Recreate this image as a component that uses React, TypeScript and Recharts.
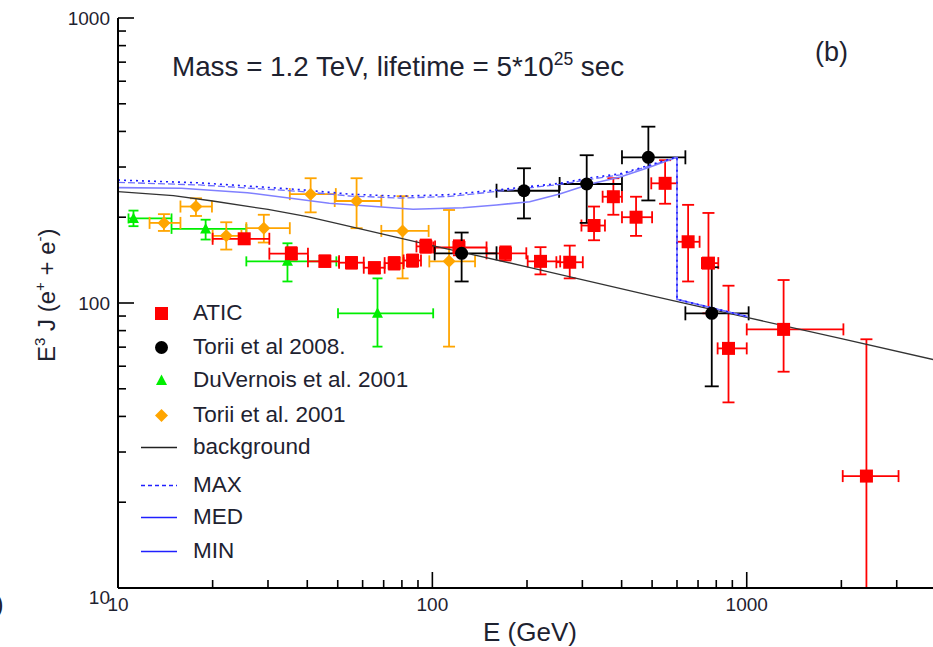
import React from 'react';
import { ComposedChart, XAxis, YAxis, Line, Scatter, ErrorBar, Legend } from 'recharts';

// [E, value, E low, E high, value low, value high]
const ATIC = [
  [25.2, 168, 20.0, 30.3, 162, 174],
  [35.6, 149, 30.3, 40.2, 142, 157],
  [45.5, 140, 40.2, 50.5, 134, 147],
  [55.3, 138.5, 50.5, 60.5, 132, 145],
  [65.4, 133, 60.5, 70.5, 127, 139],
  [75.6, 138, 70.5, 81, 131, 145],
  [86.5, 141, 81, 92, 134, 148],
  [95.3, 158, 89, 102, 150, 167],
  [121.5, 156.6, 100.6, 148.7, 147, 166],
  [170.8, 149.4, 148.7, 199, 141, 158],
  [220.8, 140, 201, 255, 126, 157],
  [273.5, 139, 248, 301, 122, 159],
  [326.8, 187, 298, 354, 166, 218],
  [376.5, 236, 348, 401, 204, 274],
  [444.6, 200, 401, 500, 172, 236],
  [550, 263, 497, 600, 223, 317],
  [651, 164, 600, 708, 119, 221],
  [755.5, 138, 720, 812, 92, 207],
  [875, 69.3, 808, 1000, 44.8, 115],
  [1310, 80.8, 1000, 2030, 57.4, 120.4],
  [2403, 24.7, 2020, 3040, 10, 74.6],
];

const TORII_2008 = [
  [123.9, 149.4, 101.7, 160, 119, 176.7],
  [195.6, 247.7, 160, 253, 198, 297],
  [309.7, 261.5, 254, 401, 191, 330],
  [486.5, 324.5, 401, 638, 229, 415.6],
  [774, 92, 638, 1014, 51, 133.5],
];

const DUVERNOIS = [
  [11.2, 198, 10.8, 14.8, 186, 211],
  [19.0, 182, 14.8, 25.6, 167, 196],
  [34.6, 140, 25.6, 49.5, 119, 162],
  [66.9, 92, 50.1, 100.6, 70.3, 122],
];

const TORII_2001 = [
  [14.0, 191, 12.6, 15.8, 179, 205],
  [17.7, 218, 15.8, 19.9, 202, 233],
  [22.1, 172, 20.0, 24.7, 154, 192],
  [29.1, 183, 25.6, 35.2, 163, 204],
  [41.0, 241, 35.2, 49.3, 208, 274],
  [57.4, 228, 48.9, 68.8, 183, 274],
  [80.4, 179, 68.8, 97.3, 122, 237],
  [113, 140, 97.8, 136.7, 70.3, 212],
];

// [E, value]
const BACKGROUND = [
  [10, 245.8], [15, 238], [20, 228], [30, 213], [40, 201], [50, 190], [100, 159],
  [200, 134], [500, 106], [1000, 89], [2000, 75], [4000, 63],
];
const MAX = [
  [10, 270], [18.2, 264], [37.8, 250], [54.6, 241], [78.8, 237], [113.7, 240], [164, 250],
  [254.6, 263], [317.5, 275], [395.6, 284], [492.8, 305], [596.6, 325], [600, 325],
  [600, 103], [1010, 89.5],
];
const MED = [
  [10, 265], [18.2, 259.5], [37.8, 246.5], [54.6, 237.4], [78.8, 233.5], [113.7, 236.5],
  [164, 247], [254.6, 260.7], [317.5, 271.6], [395.6, 281.5], [492.8, 303], [596.6, 324],
  [600, 324], [600, 103], [1010, 89.5],
];
const MIN = [
  [10, 254], [15.9, 252.6], [25.8, 243.8], [47, 224], [86.8, 213.3], [125, 215.8],
  [160, 220.8], [204, 226.6], [254, 241.3], [318, 261.5], [396, 276.7], [493, 300],
  [596, 324], [600, 324], [600, 103], [1010, 89.5],
];

const X_TICKS = [10, 20, 30, 40, 50, 60, 70, 80, 90, 100, 200, 300, 400, 500, 600, 700, 800, 900, 1000, 2000, 3000];
const Y_TICKS = [10, 20, 30, 40, 50, 60, 70, 80, 90, 100, 200, 300, 400, 500, 600, 700, 800, 900, 1000];
const DECADES = [10, 100, 1000];

const FONT = "'Liberation Sans', Arial, sans-serif";
const TXT = '#1e2230';

const points = (rows: number[][]) =>
  rows.map(([e, v, elo, ehi, vlo, vhi]) => ({ e, v, ex: [e - elo, ehi - e], ey: [v - vlo, vhi - v] }));
const curve = (rows: number[][]) => rows.map(([e, v]) => ({ e, v }));

const XTick = (props: any) => {
  const { x, y, payload, top } = props;
  const major = DECADES.includes(payload.value);
  const len = major ? 16 : 8;
  return (
    <g>
      <line x1={x} x2={x} y1={y} y2={top ? y + len : y - len} stroke="#000" strokeWidth={1.6} />
      {!top && major && (
        <text x={x} y={y + 23} textAnchor="middle" fontSize={19} fontFamily={FONT} fill={TXT}>
          {payload.value}
        </text>
      )}
    </g>
  );
};

const YTick = (props: any) => {
  const { x, y, payload, right } = props;
  const major = DECADES.includes(payload.value);
  const len = major ? 16 : 8;
  return (
    <g>
      <line x1={x} x2={right ? x - len : x + len} y1={y} y2={y} stroke="#000" strokeWidth={1.6} />
      {!right && major && (
        <text x={x - 8} y={y + 7 + (payload.value === 10 ? 9 : 0)} textAnchor="end" fontSize={19} fontFamily={FONT} fill={TXT}>
          {payload.value}
        </text>
      )}
    </g>
  );
};

const square = (p: any) => <rect x={p.cx - 6.5} y={p.cy - 6.5} width={13} height={13} fill="#ff0000" />;
const circle = (p: any) => <circle cx={p.cx} cy={p.cy} r={6.5} fill="#000" />;
const triangle = (p: any) => (
  <polygon points={`${p.cx},${p.cy - 6} ${p.cx - 5.5},${p.cy + 4.5} ${p.cx + 5.5},${p.cy + 4.5}`} fill="#00ee00" />
);
const diamond = (p: any) => (
  <polygon points={`${p.cx},${p.cy - 6.5} ${p.cx + 6.5},${p.cy} ${p.cx},${p.cy + 6.5} ${p.cx - 6.5},${p.cy}`} fill="#ffa500" />
);

const LEGEND_ROWS = [
  { label: 'ATIC', y: 18, kind: 'square' },
  { label: 'Torii et al 2008.', y: 52, kind: 'circle' },
  { label: 'DuVernois et al. 2001', y: 85, kind: 'triangle' },
  { label: 'Torii et al. 2001', y: 120, kind: 'diamond' },
  { label: 'background', y: 152, kind: 'bg' },
  { label: 'MAX', y: 190, kind: 'max' },
  { label: 'MED', y: 222, kind: 'med' },
  { label: 'MIN', y: 256, kind: 'min' },
];

const legendMark = (kind: string) => {
  switch (kind) {
    case 'square': return <rect x={14} y={5} width={13} height={13} fill="#ff0000" />;
    case 'circle': return <circle cx={20.5} cy={11.5} r={6.5} fill="#000" />;
    case 'triangle': return <polygon points="20.5,5.5 15,16 26,16" fill="#00ee00" />;
    case 'diamond': return <polygon points="20.5,5 27,11.5 20.5,18 14,11.5" fill="#ffa500" />;
    case 'bg': return <line x1={0} x2={36} y1={11.5} y2={11.5} stroke="#222" strokeWidth={1.5} />;
    case 'max': return <line x1={0} x2={36} y1={11.5} y2={11.5} stroke="#2020ff" strokeWidth={1.5} strokeDasharray="4 3" />;
    default: return <line x1={0} x2={36} y1={11.5} y2={11.5} stroke="#2020ff" strokeWidth={1.6} />;
  }
};

const LegendBox = () => (
  <div style={{ position: 'relative', width: 320, height: 280 }}>
    {LEGEND_ROWS.map((r) => (
      <div key={r.label} style={{ position: 'absolute', left: 0, top: r.y - 12, height: 24, display: 'flex', alignItems: 'center' }}>
        <svg width={38} height={23} style={{ display: 'block' }}>{legendMark(r.kind)}</svg>
        <span style={{ marginLeft: 14, fontFamily: FONT, fontSize: 22.5, color: TXT, whiteSpace: 'nowrap', lineHeight: '24px' }}>
          {r.label}
        </span>
      </div>
    ))}
  </div>
);

const series = [
  { name: 'DuVernois', rows: DUVERNOIS, shape: triangle, color: '#00ee00', cap: 5 },
  { name: 'Torii2001', rows: TORII_2001, shape: diamond, color: '#ffa500', cap: 6 },
  { name: 'ATIC', rows: ATIC, shape: square, color: '#ff0000', cap: 6 },
  { name: 'Torii2008', rows: TORII_2008, shape: circle, color: '#000000', cap: 7 },
];

export default function App() {
  return (
    <div style={{ position: 'absolute', left: 0, top: 0, width: 933, height: 647, overflow: 'hidden', background: '#fff' }}>
      <ComposedChart width={936} height={647} margin={{ top: 18, right: 0, bottom: 0, left: 0 }}>
        <XAxis
          xAxisId="b" dataKey="e" type="number" scale="log" domain={[10, 4000]} allowDataOverflow
          ticks={X_TICKS} interval={0} height={59} tickSize={0} tickMargin={0}
          axisLine={{ stroke: '#000', strokeWidth: 2 }} tickLine={false} tick={<XTick />}
        />
        <XAxis
          xAxisId="t" orientation="top" dataKey="e" type="number" scale="log" domain={[10, 4000]} allowDataOverflow
          ticks={X_TICKS} interval={0} height={0} tickSize={0} tickMargin={0}
          axisLine={{ stroke: '#000', strokeWidth: 2 }} tickLine={false} tick={<XTick top />}
        />
        <YAxis
          yAxisId="l" dataKey="v" type="number" scale="log" domain={[10, 1000]} allowDataOverflow
          ticks={Y_TICKS} interval={0} width={118} tickSize={0} tickMargin={0}
          axisLine={{ stroke: '#000', strokeWidth: 2 }} tickLine={false} tick={<YTick />}
        />
        <YAxis
          yAxisId="r" orientation="right" dataKey="v" type="number" scale="log" domain={[10, 1000]} allowDataOverflow
          ticks={Y_TICKS} interval={0} width={0} tickSize={0} tickMargin={0}
          axisLine={{ stroke: '#000', strokeWidth: 2 }} tickLine={false} tick={<YTick right />}
        />
        {series.map((s) => (
          <Scatter
            key={s.name} xAxisId="b" yAxisId="l" data={points(s.rows)} dataKey="v"
            shape={s.shape} isAnimationActive={false}
          >
            <ErrorBar dataKey="ey" direction="y" stroke={s.color} strokeWidth={1.8} width={s.cap} />
            <ErrorBar dataKey="ex" direction="x" stroke={s.color} strokeWidth={1.8} width={s.cap} />
          </Scatter>
        ))}
        <Line xAxisId="b" yAxisId="l" data={curve(BACKGROUND)} dataKey="v" type="linear" stroke="#333" strokeWidth={1.3} dot={false} isAnimationActive={false} />
        <Line xAxisId="b" yAxisId="l" data={curve(MIN)} dataKey="v" type="linear" stroke="#8080ff" strokeWidth={1.6} dot={false} isAnimationActive={false} />
        <Line xAxisId="b" yAxisId="l" data={curve(MED)} dataKey="v" type="linear" stroke="#7070ff" strokeWidth={1.3} strokeDasharray="7 3" dot={false} isAnimationActive={false} />
        <Line xAxisId="b" yAxisId="l" data={curve(MAX)} dataKey="v" type="linear" stroke="#1a1aff" strokeWidth={1.6} strokeDasharray="2 4" dot={false} isAnimationActive={false} />
        <Legend
          layout="vertical" align="center" verticalAlign="middle" content={<LegendBox />}
          wrapperStyle={{ left: 141, top: 295, width: 320, height: 280 }}
        />
      </ComposedChart>
      <svg width={933} height={647} style={{ position: 'absolute', left: 0, top: 0, pointerEvents: 'none' }}>
        <text x={172} y={76} fontSize={27.8} fontFamily={FONT} fill={TXT}>
          Mass = 1.2 TeV, lifetime = 5*10<tspan dy={-11} fontSize={17.5}>25</tspan>
          <tspan dy={11}> sec</tspan>
        </text>
        <text x={815} y={61} fontSize={27} fontFamily={FONT} fill={TXT}>(b)</text>
        <text x={530} y={641} textAnchor="middle" fontSize={26} fontFamily={FONT} fill={TXT}>E (GeV)</text>
        <text transform="translate(55,362) rotate(-90)" textAnchor="start" fontSize={24} fontFamily={FONT} fill={TXT}>
          E<tspan dy={-10} fontSize={15}>3</tspan>
          <tspan dy={10}> J (e</tspan>
          <tspan dy={-10} fontSize={15}>+</tspan>
          <tspan dy={10}> + e</tspan>
          <tspan dy={-10} fontSize={15}>-</tspan>
          <tspan dy={10}>)</tspan>
        </text>
        <text x={-5} y={613} fontSize={26} fontFamily={FONT} fill={TXT}>)</text>
      </svg>
    </div>
  );
}
